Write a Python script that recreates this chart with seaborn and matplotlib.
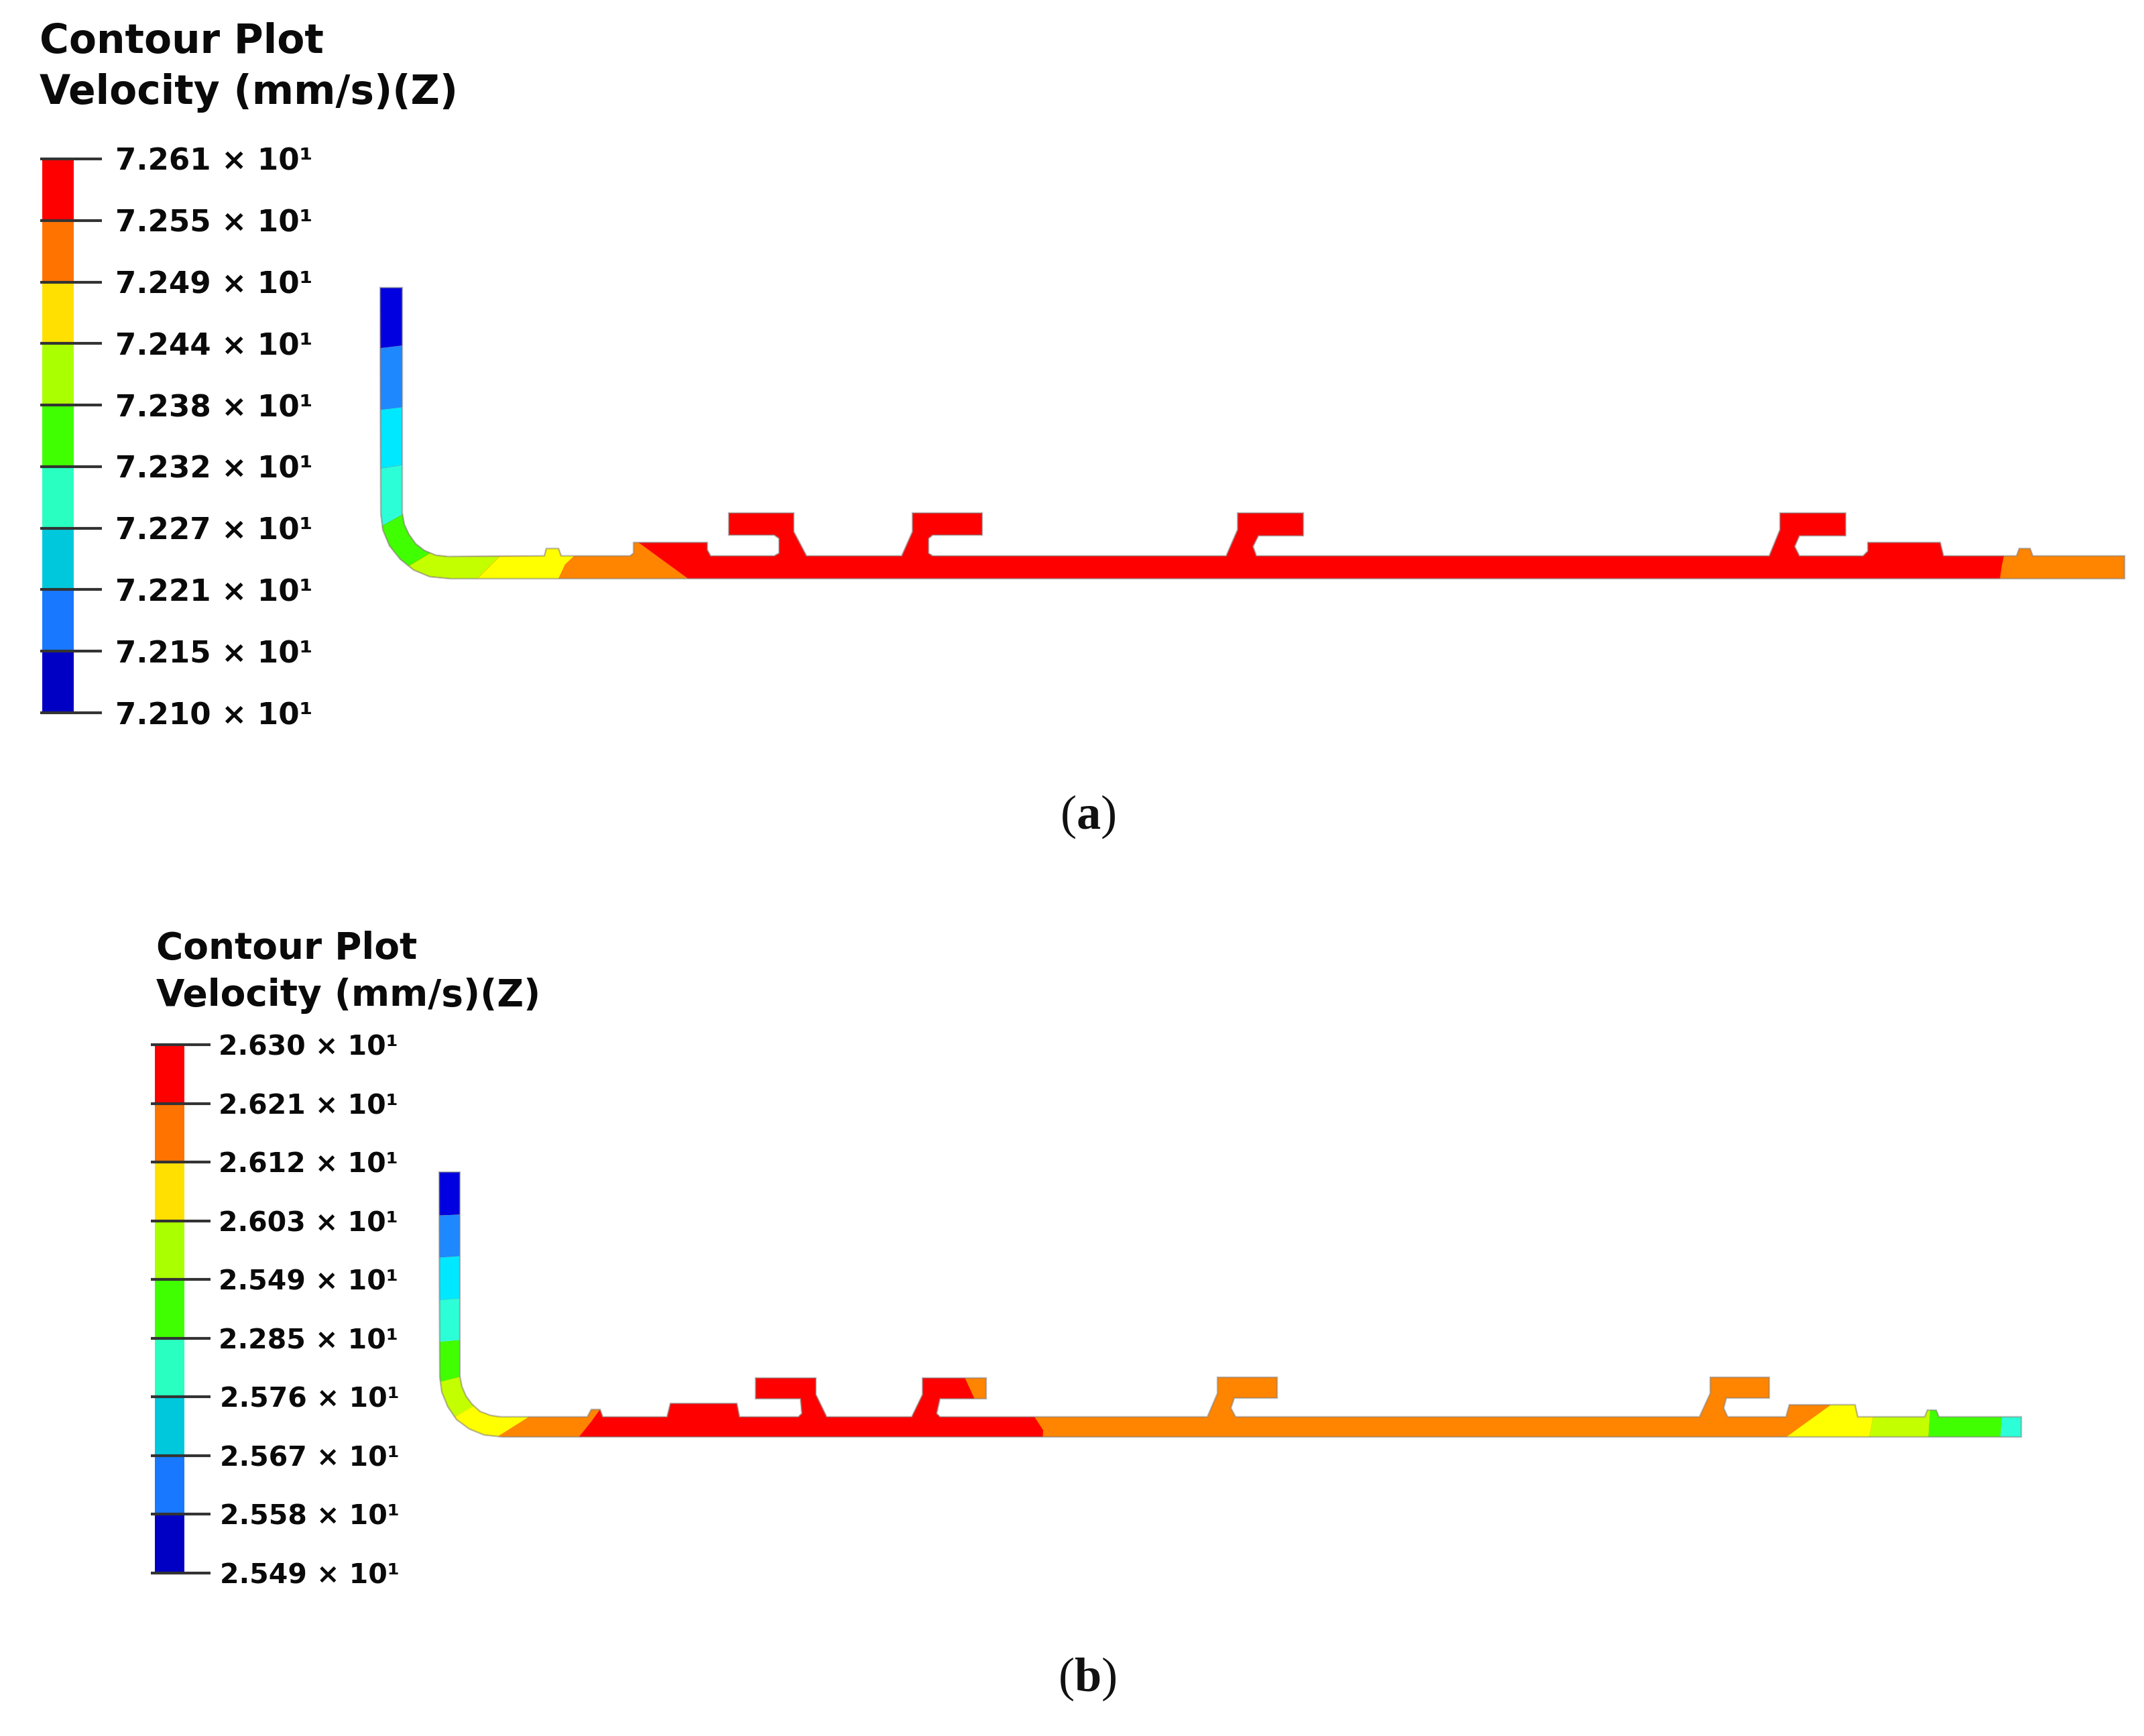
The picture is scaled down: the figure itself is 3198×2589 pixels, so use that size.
from __future__ import annotations

import numpy as np
import seaborn as sns
from matplotlib import pyplot as plt
from matplotlib.colors import ListedColormap
from matplotlib.patches import Polygon

WIDTH = 3198
HEIGHT = 2589

TITLE_LINES = ["Contour Plot", "Velocity (mm/s)(Z)"]

# legend bands, top to bottom
BAND_COLORS = ["#FF0000", "#FF7400", "#FFE000", "#AAFF00", "#40FF00",
               "#28FFC0", "#00C8DC", "#1878FF", "#0000C4"]
LABELS_A = ["7.261", "7.255", "7.249", "7.244", "7.238", "7.232", "7.227", "7.221", "7.215", "7.210"]
LABELS_B = ["2.630", "2.621", "2.612", "2.603", "2.549", "2.285", "2.576", "2.567", "2.558", "2.549"]

RED = "#FF0000"
ORANGE = "#FF8400"
YELLOW = "#FFFF00"
LIME = "#C4FF00"
GREEN = "#40FF00"
TEAL = "#2CFFD8"
CYAN = "#00E8FF"
BLUE = "#1E88FF"
NAVY = "#0000E0"

# part outlines, in image pixels
A_OUTLINE_X = [567, 568, 571, 581, 597, 617, 641, 672, 3169, 3169, 3032, 3028, 3012, 3008, 2899, 2894, 2786, 2786,
               2779, 2684, 2677, 2684, 2753, 2753, 2655, 2655, 2639, 1874, 1869, 1877, 1944, 1944, 1846, 1846, 1829,
               1391, 1385, 1385, 1391, 1465, 1465, 1361, 1361, 1345, 1203, 1184, 1184, 1087, 1087, 1155, 1162, 1162,
               1155, 1060, 1055, 1055, 945, 945, 940, 837, 833, 815, 812, 668, 650, 633, 620, 610, 603, 600, 600]
A_OUTLINE_Y = [429, 765, 790, 814, 834, 850, 860, 863, 863, 829, 829, 818, 818, 829, 829, 809, 809, 822,
               829, 829, 815, 799, 799, 765, 765, 790, 829, 829, 815, 799, 799, 765, 765, 790, 829,
               829, 825, 803, 798, 798, 765, 765, 793, 829, 829, 793, 765, 765, 798, 798, 803, 825,
               829, 829, 820, 809, 809, 825, 829, 829, 818, 818, 829, 830, 828, 821, 811, 797, 782, 765, 429]
B_OUTLINE_X = [655, 656, 659, 668, 681, 700, 722, 750, 3015, 3015, 2892, 2888, 2875, 2871, 2771, 2767, 2669, 2664,
               2577, 2571, 2575, 2639, 2639, 2551, 2551, 2535, 1843, 1836, 1841, 1905, 1905, 1816, 1816, 1801,
               1402, 1397, 1402, 1471, 1471, 1376, 1376, 1360, 1233, 1217, 1217, 1127, 1127, 1194, 1196, 1191,
               1103, 1099, 1000, 995, 899, 895, 882, 876, 746, 732, 716, 704, 695, 689, 686, 686]
B_OUTLINE_Y = [1748, 2053, 2076, 2098, 2117, 2131, 2140, 2143, 2143, 2113, 2113, 2103, 2103, 2113, 2113, 2095, 2095, 2113,
               2113, 2100, 2085, 2085, 2054, 2054, 2078, 2113, 2113, 2100, 2085, 2085, 2054, 2054, 2078, 2113,
               2113, 2108, 2086, 2086, 2055, 2055, 2080, 2113, 2113, 2080, 2055, 2055, 2086, 2086, 2108, 2113,
               2113, 2093, 2093, 2113, 2113, 2102, 2102, 2113, 2113, 2111, 2105, 2094, 2082, 2068, 2053, 1748]

# contour zones as (colour, x, y), clipped to the outline; the rest of the part keeps the base colour
A_BASE = RED
A_ZONES = [
    (NAVY, [560, 610, 610, 560], [420, 420, 514, 520]),
    (BLUE, [560, 610, 610, 560], [520, 514, 606, 612]),
    (CYAN, [560, 610, 610, 560], [612, 606, 692, 700]),
    (TEAL, [560, 610, 610, 560], [700, 692, 762, 790]),
    (GREEN, [560, 610, 650, 605, 545], [790, 762, 820, 847, 850]),
    (LIME, [605, 650, 750, 705, 620], [847, 820, 825, 870, 880]),
    (YELLOW, [750, 780, 860, 843, 830, 705], [825, 800, 826, 842, 870, 870]),
    (ORANGE, [860, 843, 830, 1036, 940, 860], [826, 842, 870, 870, 800, 800]),
    (ORANGE, [2993, 2986, 2982, 3180, 3180, 2993], [810, 843, 870, 870, 810, 810]),
]
B_BASE = ORANGE
B_ZONES = [
    (NAVY, [648, 694, 694, 648], [1740, 1740, 1811, 1813]),
    (BLUE, [648, 694, 694, 648], [1813, 1811, 1873, 1876]),
    (CYAN, [648, 694, 694, 648], [1876, 1873, 1936, 1940]),
    (TEAL, [648, 694, 694, 648], [1940, 1936, 1998, 2002]),
    (GREEN, [648, 694, 694, 648], [2002, 1998, 2051, 2064]),
    (LIME, [640, 700, 712, 680, 640], [2065, 2050, 2095, 2112, 2112]),
    (YELLOW, [675, 712, 800, 730, 675], [2115, 2094, 2106, 2150, 2150]),
    (RED, [900, 882, 858, 1555, 1556, 1543, 1460, 1453, 1437, 900],
     [2095, 2120, 2150, 2150, 2133, 2113, 2095, 2085, 2050, 2050]),
    (YELLOW, [2745, 2798, 2787, 2655], [2085, 2090, 2150, 2150]),
    (LIME, [2798, 2880, 2876, 2787], [2090, 2090, 2150, 2150]),
    (GREEN, [2880, 2988, 2983, 2876], [2090, 2090, 2150, 2150]),
    (TEAL, [2988, 3030, 3030, 2983], [2090, 2090, 2150, 2150]),
]


def draw_legend(fig, ax, labels, title_x, title_y, title_size, label_size, bar_box, tick_start, tick_len, pad,
                shift_from=None):
    left, top, right, bottom = bar_box
    ax.text(title_x, title_y[0], TITLE_LINES[0], fontsize=title_size, fontweight="bold", va="center", color="#0A0A0A")
    ax.text(title_x, title_y[1], TITLE_LINES[1], fontsize=title_size, fontweight="bold", va="center", color="#0A0A0A")

    cax = fig.add_axes([left / WIDTH, 1 - bottom / HEIGHT, (right - left) / WIDTH, (bottom - top) / HEIGHT])
    sns.heatmap(
        np.arange(len(BAND_COLORS)).reshape(-1, 1),
        cmap=ListedColormap(BAND_COLORS),
        cbar=False,
        xticklabels=False,
        yticklabels=False,
        ax=cax,
    )
    positions = np.arange(len(labels))
    cax.yaxis.tick_right()
    cax.set_yticks(positions)
    cax.set_yticklabels([f"{label} \u00d7 10\u00b9" for label in labels], rotation=0, fontsize=label_size,
                        fontweight="bold", color="#0A0A0A")
    cax.tick_params(axis="y", length=tick_len * 0.72, width=3, color="#333333", pad=pad, direction="out")
    if shift_from is not None:
        for tick in cax.yaxis.get_major_ticks()[shift_from:]:
            tick.set_pad(pad + 1.5)
    cax.hlines(positions, -(left - tick_start) / (right - left), 1, color="#333333", linewidth=3, clip_on=False)


def draw_part(ax, outline_x, outline_y, base, zones):
    points = np.column_stack([outline_x, outline_y])
    shape = Polygon(points, closed=True, facecolor=base, edgecolor="none", zorder=2)
    ax.add_patch(shape)
    for color, xs, ys in zones:
        for patch in ax.fill(xs, ys, color=color, linewidth=0, zorder=3):
            patch.set_clip_path(shape)
    ax.add_patch(Polygon(points, closed=True, fill=False, edgecolor="#808080", linewidth=1.8, alpha=0.5, zorder=4))


def main() -> None:
    sns.set_theme(style="white")
    plt.rcParams["font.family"] = ["DejaVu Sans"]
    plt.rcParams["mathtext.fontset"] = "custom"
    plt.rcParams["mathtext.rm"] = "Liberation Serif"
    plt.rcParams["mathtext.bf"] = "Liberation Serif:bold"

    fig = plt.figure(figsize=(WIDTH / 100, HEIGHT / 100), dpi=100)
    ax = fig.add_axes([0, 0, 1, 1])
    ax.set_xlim(0, WIDTH)
    ax.set_ylim(HEIGHT, 0)
    ax.axis("off")

    draw_legend(fig, ax, LABELS_A, 59, (63, 139), 43, 32.5, (63, 237, 110, 1063), 60, 42, 14.5)
    draw_legend(fig, ax, LABELS_B, 233, (1415, 1485), 39.5, 29.5, (231, 1558, 275, 2346), 225, 39, 8.5, shift_from=6)

    draw_part(ax, A_OUTLINE_X, A_OUTLINE_Y, A_BASE, A_ZONES)
    draw_part(ax, B_OUTLINE_X, B_OUTLINE_Y, B_BASE, B_ZONES)

    for x, y, letter in ((1623, 1218, "a"), (1622, 2504, "b")):
        ax.text(x, y, rf"$\mathrm{{(}}\mathbf{{{letter}}}\mathrm{{)}}$", fontsize=52, ha="center", va="center",
                color="#111111")

    fig.savefig("out.png", dpi=100)
    plt.close(fig)


if __name__ == "__main__":
    main()
